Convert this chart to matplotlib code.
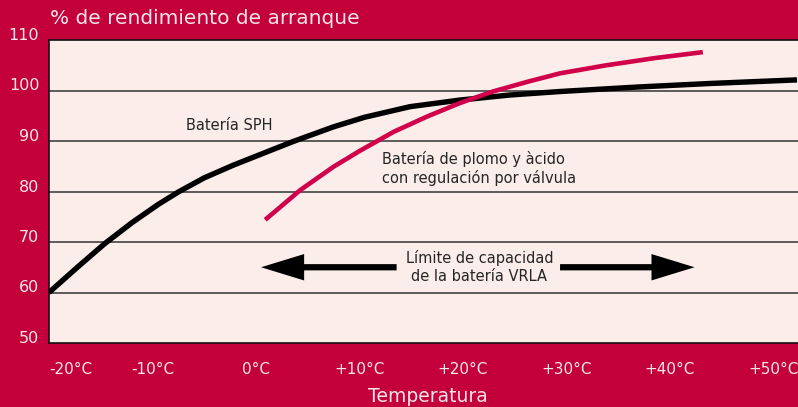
import matplotlib
matplotlib.use('Agg')
from matplotlib import pyplot as plt
from matplotlib import transforms

# curve values
sph_temp = [-20, -17.2, -14.6, -12, -9.4, -7.5, -5, -2.2, 1, 3.6, 7.5, 10.5, 14.9, 19.7, 24.5, 29.4, 37, 44, 52.3]
sph_perf = [60, 65.1, 69.7, 73.8, 77.5, 79.9, 82.7, 85.2, 87.8, 89.9, 92.8, 94.7, 96.8, 98.1, 99.1, 99.8, 100.7, 101.4,
            102.1]
vrla_temp = [0.9, 4.3, 7.5, 10, 13.3, 16.5, 19.7, 22.9, 26.2, 29.4, 33.9, 38.5, 43.2]
vrla_perf = [74.4, 80.3, 84.9, 88.0, 91.8, 94.8, 97.5, 99.8, 101.7, 103.4, 105.0, 106.4, 107.6]

x_ticks = [-20, -10, 0, 10, 20, 30, 40, 50]
x_labels = ['-20°C', '-10°C', '0°C', '+10°C', '+20°C', '+30°C', '+40°C', '+50°C']
y_ticks = [50, 60, 70, 80, 90, 100, 110]

# VRLA capacity limit arrows (left arrow, right arrow)
limit_left = (13.6, 0.5)
limit_right = (29.4, 42.4)
limit_level = 65.0

BG = '#C4003B'
PANEL = '#FAEDEA'
RED = '#D0004B'
LABEL = '#F7E6EA'
INK = '#262626'

fig = plt.figure(figsize=(7.98, 4.07), dpi=100, facecolor=BG)
ax = fig.add_axes((49 / 798, 1 - 343 / 407, 749 / 798, 303 / 407))
ax.set_facecolor(PANEL)
ax.set_xlim(-20, 52.4)
ax.set_ylim(50, 110)

for y in y_ticks[1:-1]:
    ax.axhline(y, color='#333333', linewidth=1.1, zorder=1)

ax.plot(sph_temp, sph_perf, color='black', linewidth=3.9, solid_capstyle='butt', solid_joinstyle='round', zorder=3)
ax.plot(vrla_temp, vrla_perf, color=RED, linewidth=3.3, solid_capstyle='butt', solid_joinstyle='round', zorder=3)

arrow_style = 'simple,head_length=3.1,head_width=1.9,tail_width=0.45'
for start, end in (limit_left, limit_right):
    ax.annotate('', xy=(end, limit_level), xytext=(start, limit_level),
                arrowprops=dict(arrowstyle=arrow_style, color='black', lw=0, shrinkA=0, shrinkB=0))

ax.text(21.6, limit_level, 'Límite de capacidad\nde la batería VRLA', ha='center', va='center',
        fontsize=10.5, color=INK, linespacing=1.25)
ax.text(-6.8, 93.0, 'Batería SPH', ha='left', va='center', fontsize=10.5, color=INK)
ax.text(12.2, 84.5, 'Batería de plomo y àcido\ncon regulación por válvula', ha='left', va='center',
        fontsize=10.5, color=INK, linespacing=1.25)

for side in ('left', 'top', 'bottom'):
    ax.spines[side].set_color('#111111')
    ax.spines[side].set_linewidth(1.2)
ax.spines['right'].set_visible(False)

ax.tick_params(length=0)
ax.set_yticks(y_ticks)
ax.set_yticklabels([str(v) for v in y_ticks], fontsize=11.5, color=LABEL)
ax.tick_params(axis='y', pad=7)
shift_up = transforms.ScaledTranslation(0, 6 / 100, fig.dpi_scale_trans)
for lbl in ax.get_yticklabels():
    lbl.set_transform(lbl.get_transform() + shift_up)

ax.set_xticks(x_ticks)
ax.set_xticklabels(x_labels, fontsize=11, color=LABEL)
ax.tick_params(axis='x', pad=14)
ax.get_xticklabels()[0].set_horizontalalignment('left')

fig.text(50 / 798, 1 - 18 / 407, '% de rendimiento de arranque', ha='left', va='center', fontsize=14.5, color=LABEL)
fig.text(428 / 798, 1 - 396 / 407, 'Temperatura', ha='center', va='center', fontsize=13.5, color=LABEL)

fig.savefig('out.png', dpi=100, facecolor=BG)
